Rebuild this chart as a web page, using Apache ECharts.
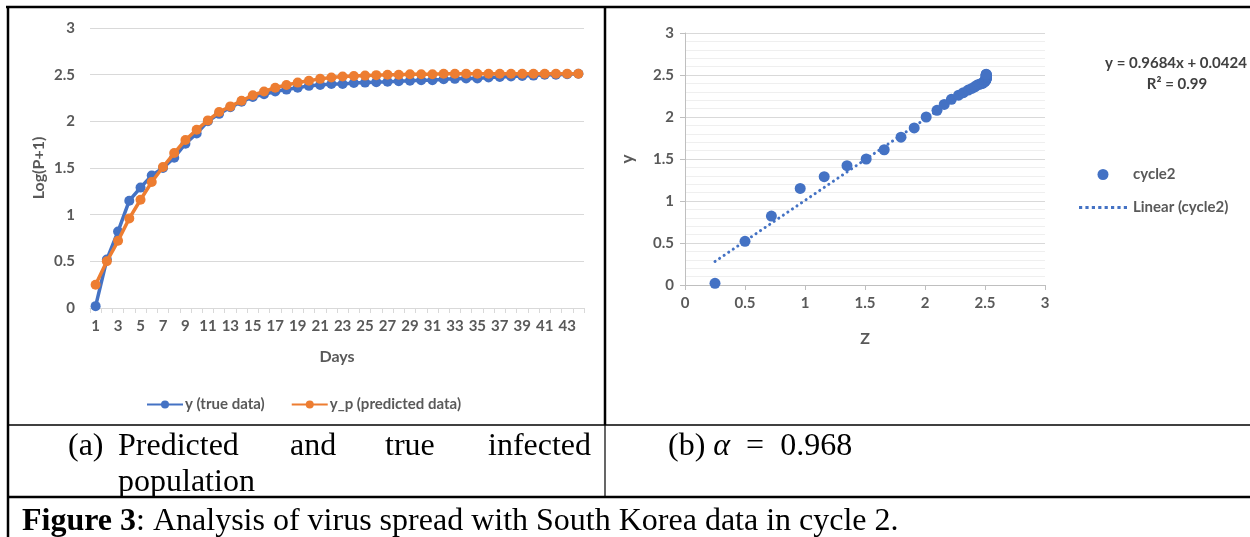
<!DOCTYPE html>
<html>
<head>
<meta charset="utf-8">
<script src="https://cdn.jsdelivr.net/npm/echarts@6/dist/echarts.min.js"></script>
<style>
html,body{margin:0;padding:0;background:#fff;}
#chart{width:1250px;height:537px;}
</style>
</head>
<body>
<div id="chart"></div>
<script>
// ---- data ----
const days = ['1','2','3','4','5','6','7','8','9','10','11','12','13','14','15','16','17','18','19','20','21','22','23','24','25','26','27','28','29','30','31','32','33','34','35','36','37','38','39','40','41','42','43','44'];
const yTrue = [0.02,0.52,0.82,1.15,1.29,1.42,1.50,1.61,1.76,1.87,2.00,2.08,2.15,2.21,2.26,2.29,2.32,2.34,2.36,2.38,2.39,2.40,2.40,2.41,2.415,2.42,2.425,2.43,2.435,2.44,2.44,2.45,2.455,2.46,2.46,2.47,2.475,2.48,2.485,2.49,2.50,2.50,2.505,2.51];
const yPred = [0.25,0.50,0.72,0.96,1.16,1.35,1.51,1.66,1.80,1.91,2.01,2.10,2.16,2.22,2.28,2.32,2.36,2.39,2.415,2.435,2.455,2.47,2.48,2.485,2.49,2.495,2.50,2.50,2.505,2.505,2.505,2.51,2.51,2.51,2.51,2.51,2.51,2.51,2.51,2.51,2.51,2.51,2.51,2.51];
const trendLine = [[0.25, 0.28], [2.51, 2.47]];
const yTicks = [0, 0.5, 1, 1.5, 2, 2.5, 3];
const seriesNames = ['y (true data)', 'y_p (predicted data)', 'cycle2', 'Linear (cycle2)'];
const equationText = 'y = 0.9684x + 0.0424';
const r2Text = 'R² = 0.99';

// scatter of cycle2: Z (predicted) vs y (true)
const cycle2 = yPred.map((z, i) => [z, yTrue[i]]);

const BLUE = '#4472C4', ORANGE = '#ED7D31', TXT = '#595959';
const F = 'Lato, "Open Sans", sans-serif';
const SERIF = '"Liberation Serif", "DejaVu Serif", serif';
const CAP = 32;

const chart = echarts.init(document.getElementById('chart'), null, {renderer: 'canvas'});

const lbl = {color: TXT, fontFamily: F, fontWeight: 'bold', fontSize: 15};
const nameStyle = {color: TXT, fontFamily: F, fontWeight: 'bold', fontSize: 16};
const dottedIcon = 'path://M0 0h3v3h-3z M6 0h3v3h-3z M12 0h3v3h-3z M18 0h3v3h-3z M24 0h3v3h-3z M30 0h3v3h-3z M36 0h3v3h-3z M42 0h3v3h-3z';

chart.setOption({
  animation: false,
  backgroundColor: '#fff',
  grid: [
    {left: 90, width: 494, top: 28, height: 280},
    {left: 685, width: 360, top: 33, height: 252}
  ],
  xAxis: [
    {
      gridIndex: 0, type: 'category', data: days, boundaryGap: true,
      axisLine: {lineStyle: {color: '#d9d9d9', width: 1}},
      axisTick: {show: true, interval: 0, length: 5, lineStyle: {color: '#d9d9d9'}},
      axisLabel: Object.assign({interval: 1, margin: 11}, lbl),
      name: 'Days', nameLocation: 'middle', nameGap: 41,
      nameTextStyle: nameStyle,
      splitLine: {show: false}
    },
    {
      gridIndex: 1, type: 'value', min: 0, max: 3, interval: 0.5,
      axisLine: {show: true, onZero: false, lineStyle: {color: '#bfbfbf'}},
      axisTick: {show: true, length: 5, lineStyle: {color: '#bfbfbf'}},
      axisLabel: Object.assign({margin: 11}, lbl),
      name: 'Z', nameLocation: 'middle', nameGap: 46,
      nameTextStyle: nameStyle,
      splitLine: {show: false}
    }
  ],
  yAxis: [
    {
      gridIndex: 0, type: 'value', min: yTicks[0], max: yTicks[yTicks.length - 1], interval: 0.5,
      axisLine: {show: false}, axisTick: {show: false},
      axisLabel: Object.assign({margin: 15}, lbl),
      splitLine: {lineStyle: {color: '#d9d9d9'}},
      name: 'Log(P+1)', nameLocation: 'middle', nameGap: 43, nameRotate: 90,
      nameTextStyle: nameStyle
    },
    {
      gridIndex: 1, type: 'value', min: yTicks[0], max: yTicks[yTicks.length - 1], interval: 0.5,
      axisLine: {show: true, lineStyle: {color: '#bfbfbf'}},
      axisTick: {show: true, length: 5, lineStyle: {color: '#bfbfbf'}},
      axisLabel: Object.assign({margin: 11}, lbl),
      splitLine: {lineStyle: {color: '#d9d9d9'}},
      minorTick: {show: false, splitNumber: 5},
      minorSplitLine: {show: true, lineStyle: {color: '#efefef'}},
      name: 'y', nameLocation: 'middle', nameGap: 49, nameRotate: 90,
      nameTextStyle: {color: TXT, fontFamily: F, fontWeight: 'bold', fontSize: 17}
    }
  ],
  legend: [
    {
      data: [seriesNames[0], seriesNames[1]],
      left: 141, top: 392, itemWidth: 36, itemHeight: 10, itemGap: 26,
      textStyle: {color: TXT, fontFamily: F, fontWeight: 'bold', fontSize: 15, padding: [0, 0, 0, -3]}
    },
    {
      data: [
        {name: seriesNames[2], icon: 'circle'},
        {name: seriesNames[3], icon: dottedIcon}
      ],
      orient: 'vertical', left: 1074, top: 162, itemWidth: 48, itemHeight: 11, itemGap: 18,
      textStyle: {color: TXT, fontFamily: F, fontWeight: 'bold', fontSize: 15, padding: [0, 0, 0, 1]}
    }
  ],
  series: [
    {
      name: seriesNames[0], type: 'line', xAxisIndex: 0, yAxisIndex: 0, data: yTrue,
      symbol: 'circle', symbolSize: 10, showAllSymbol: true, itemStyle: {color: BLUE},
      lineStyle: {color: BLUE, width: 3.5}, z: 2
    },
    {
      name: seriesNames[1], type: 'line', xAxisIndex: 0, yAxisIndex: 0, data: yPred,
      symbol: 'circle', symbolSize: 10, showAllSymbol: true, itemStyle: {color: ORANGE},
      lineStyle: {color: ORANGE, width: 3.5}, z: 3
    },
    {
      name: seriesNames[3], type: 'line', xAxisIndex: 1, yAxisIndex: 1, data: trendLine,
      symbol: 'none', itemStyle: {color: BLUE},
      lineStyle: {color: BLUE, width: 3, type: [0.1, 5.4], cap: 'round'}, z: 2
    },
    {
      name: seriesNames[2], type: 'scatter', xAxisIndex: 1, yAxisIndex: 1, data: cycle2,
      symbol: 'circle', symbolSize: 11, itemStyle: {color: BLUE, opacity: 1}, z: 3
    }
  ],
  graphic: [
    // table borders
    {type: 'line', shape: {x1: 6, y1: 7, x2: 1250, y2: 7}, style: {stroke: '#000', lineWidth: 2.5}},
    {type: 'line', shape: {x1: 8, y1: 6, x2: 8, y2: 537}, style: {stroke: '#000', lineWidth: 2.5}},
    {type: 'line', shape: {x1: 605, y1: 7, x2: 605, y2: 425}, style: {stroke: '#000', lineWidth: 2.5}},
    {type: 'line', shape: {x1: 605, y1: 425, x2: 605, y2: 497}, style: {stroke: '#000', lineWidth: 1.2}},
    {type: 'line', shape: {x1: 8, y1: 425, x2: 1250, y2: 425}, style: {stroke: '#000', lineWidth: 1.5}},
    {type: 'line', shape: {x1: 8, y1: 497, x2: 1250, y2: 497}, style: {stroke: '#000', lineWidth: 2.5}},
    // trendline equation
    {type: 'text', x: 1176, y: 56, style: {text: equationText, fill: '#404040', font: 'bold 15px ' + F, align: 'center'}},
    {type: 'text', x: 1177, y: 77, style: {text: r2Text, fill: '#404040', font: 'bold 15px ' + F, align: 'center'}},
    // captions
    {type: 'text', left: 68, top: 431, style: {text: '(a)', fill: '#000', font: CAP + 'px ' + SERIF}},
    {type: 'text', left: 118, top: 431, style: {text: 'Predicted', fill: '#000', font: CAP + 'px ' + SERIF}},
    {type: 'text', left: 290, top: 431, style: {text: 'and', fill: '#000', font: CAP + 'px ' + SERIF}},
    {type: 'text', left: 385, top: 431, style: {text: 'true', fill: '#000', font: CAP + 'px ' + SERIF}},
    {type: 'text', left: 488, top: 431, style: {text: 'infected', fill: '#000', font: CAP + 'px ' + SERIF}},
    {type: 'text', left: 118, top: 467, style: {text: 'population', fill: '#000', font: CAP + 'px ' + SERIF}},
    {type: 'text', left: 668, top: 431, style: {
      text: '{n|(b) }{a|α}{e|=}{n|0.968}', fill: '#000',
      rich: {
        n: {fontFamily: SERIF, fontSize: CAP, fill: '#000'},
        a: {fontFamily: SERIF, fontSize: CAP, fontStyle: 'italic', fill: '#000'},
        e: {fontFamily: SERIF, fontSize: CAP, fill: '#000', padding: [0, 16, 0, 16]}
      }
    }},
    {type: 'text', left: 22, top: 506, style: {
      text: '{b|Figure 3}{n|: Analysis of virus spread with South Korea data in cycle 2.}', fill: '#000',
      rich: {
        b: {fontFamily: SERIF, fontSize: CAP, fontWeight: 'bold', fill: '#000'},
        n: {fontFamily: SERIF, fontSize: CAP, fill: '#000'}
      }
    }}
  ]
});
</script>
</body>
</html>
